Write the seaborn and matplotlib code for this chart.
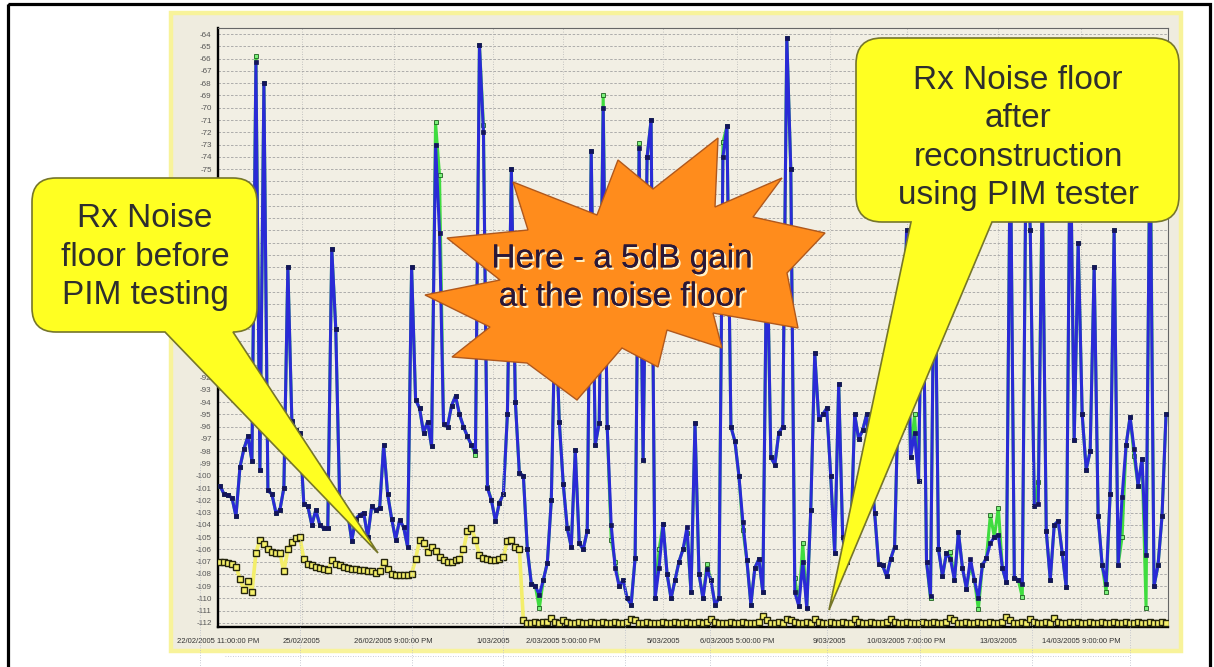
"""
Rx noise floor trend before / after PIM-guided reconstruction (site screenshot remake).
"""

import numpy as np
import matplotlib
matplotlib.use("Agg")
import matplotlib.pyplot as plt
import matplotlib.patheffects as pe
from matplotlib.patches import Rectangle, Polygon, PathPatch
from matplotlib.path import Path
import seaborn as sns


# ────────────────────────────────────────────────────────────────────
#  Data (one sample every ~4 px)
# ────────────────────────────────────────────────────────────────────

tick_pos = [-0.5, 20.5, 43.5, 68.5, 86, 111, 129.5, 152.75, 172, 195, 215.75]
tick_labels = ["22/02/2005 11:00:00 PM", "25/02/2005", "26/02/2005 9:00:00 PM",
               "1/03/2005", "2/03/2005 5:00:00 PM", "5/03/2005",
               "6/03/2005 5:00:00 PM", "9/03/2005", "10/03/2005 7:00:00 PM",
               "13/03/2005", "14/03/2005 9:00:00 PM"]
y_ticks = list(range(-112, -63))
# tick labels that sit behind the left callout in the screenshot
y_hidden = list(range(-89, -76))

# blue: busy-hour noise floor (dBm)
blue_dbm = [
    -100.8, -101.5, -101.6, -101.8, -103.3, -99.3, -97.8, -96.8, -98.8, -66.3,
    -99.5, -68.0, -101.2, -101.5, -103.0, -102.8, -101.0, -83.0, -95.5, -96.3,
    -96.5, -102.3, -102.5, -104.0, -102.8, -104.0, -104.3, -104.3, -81.5, -88.0,
    -102.3, -102.8, -103.0, -105.3, -103.5, -103.2, -103.0, -105.0, -102.5, -102.8,
    -102.6, -97.5, -101.5, -103.5, -105.2, -103.6, -104.2, -105.8, -83.0, -93.8,
    -94.5, -96.5, -95.6, -97.6, -73.0, -80.2, -95.8, -96.0, -94.3, -93.5,
    -95.0, -96.0, -96.8, -97.5, -98.0, -64.9, -72.0, -101.0, -102.0, -103.7,
    -102.2, -101.5, -95.0, -75.0, -94.0, -99.8, -100.0, -106.0, -108.8, -109.0,
    -109.7, -108.5, -107.1, -102.0, -86.0, -95.6, -100.7, -104.3, -105.8, -97.9,
    -105.5, -106.0, -104.5, -73.5, -97.5, -95.7, -70.0, -96.0, -104.0, -107.5,
    -109.0, -108.5, -110.0, -110.5, -106.7, -73.3, -98.7, -74.0, -71.0, -110.0,
    -107.5, -103.9, -108.0, -110.0, -108.5, -107.0, -106.0, -104.2, -109.5, -95.7,
    -108.0, -110.0, -107.6, -108.5, -110.5, -110.0, -74.0, -71.5, -96.0, -97.2,
    -100.0, -103.8, -106.9, -110.5, -107.5, -106.8, -109.5, -80.0, -98.5, -99.1,
    -96.5, -96.0, -64.3, -75.0, -109.5, -110.6, -107.0, -110.8, -102.8, -90.0,
    -95.4, -95.0, -94.5, -100.0, -106.3, -92.5, -105.0, -107.0, -105.8, -95.0,
    -97.0, -96.3, -95.0, -99.0, -103.0, -107.2, -107.3, -108.2, -106.8, -105.8,
    -92.5, -96.0, -80.0, -98.5, -96.5, -100.4, -79.0, -107.0, -109.8, -78.0,
    -106.0, -108.2, -106.3, -106.8, -108.5, -104.6, -107.5, -109.2, -106.8, -108.5,
    -110.0, -107.3, -106.7, -105.5, -105.0, -104.8, -107.5, -108.7, -72.0, -108.3,
    -108.5, -108.8, -71.0, -80.0, -102.5, -102.3, -76.0, -104.5, -108.5, -104.0,
    -103.7, -106.3, -109.1, -71.0, -97.1, -81.0, -95.0, -99.5, -98.0, -83.0,
    -103.3, -107.3, -108.8, -101.5, -80.0, -107.3, -101.7, -97.5, -95.2, -97.8,
    -100.8, -98.6, -106.5, -72.0, -109.0, -107.3, -103.3, -95.0,
]

# green: second carrier, only where it departs from the blue trace
green_idx = [9, 54, 55, 64, 66, 67, 80, 96, 98, 99,
             105, 110, 117, 122, 126, 131, 144, 146, 174, 178,
             183, 188, 190, 193, 195, 201, 205, 222, 226, 229,
             232, 233]
green_val = [-65.8, -71.2, -75.5, -98.3, -71.4, -100.9, -110.8, -69.0, -105.2, -107.0,
             -72.9, -106.0, -104.7, -107.2, -72.8, -104.4, -108.3, -105.5, -95.0, -110.0,
             -106.2, -107.3, -110.9, -103.2, -102.6, -109.9, -100.5, -109.5, -105.0, -98.4,
             -110.8, -69.5]

# yellow: quiet-hour noise floor (dBm)
yellow_dbm = [
    -107.0, -107.0, -107.1, -107.2, -107.4, -108.4, -109.3, -108.6, -109.5, -106.3,
    -105.2, -105.6, -106.0, -106.2, -106.3, -106.3, -107.8, -106.0, -105.4, -105.1,
    -105.0, -106.8, -107.2, -107.3, -107.4, -107.5, -107.6, -107.7, -106.9, -107.2,
    -107.3, -107.4, -107.5, -107.6, -107.6, -107.7, -107.7, -107.8, -107.8, -107.9,
    -107.8, -107.0, -107.6, -108.0, -108.1, -108.1, -108.1, -108.1, -108.0, -106.8,
    -105.2, -105.5, -106.2, -105.8, -106.1, -106.6, -106.9, -107.0, -107.0, -106.9,
    -106.8, -106.0, -104.5, -104.3, -105.2, -106.5, -106.7, -106.8, -106.9, -106.9,
    -106.8, -106.6, -105.3, -105.2, -105.8, -106.0, -111.8, -112.0, -112.0, -111.9,
    -112.0, -111.9, -111.9, -111.6, -111.9, -112.0, -111.8, -111.9, -112.0, -112.0,
    -111.9, -112.0, -112.0, -111.9, -112.0, -112.0, -111.9, -112.0, -112.0, -111.9,
    -112.0, -112.0, -111.9, -111.7, -111.8, -112.0, -112.0, -111.9, -112.0, -112.0,
    -112.0, -111.9, -112.0, -112.0, -111.9, -112.0, -112.0, -111.9, -112.0, -112.0,
    -111.9, -112.0, -111.9, -111.7, -111.9, -112.0, -112.0, -112.0, -111.9, -112.0,
    -112.0, -111.9, -112.0, -112.0, -112.0, -111.9, -111.4, -111.8, -112.0, -112.0,
    -111.9, -112.0, -111.7, -111.8, -111.9, -112.0, -112.0, -111.9, -112.0, -111.7,
    -111.9, -112.0, -112.0, -111.9, -112.0, -112.0, -111.9, -112.0, -112.0, -111.7,
    -111.9, -112.0, -112.0, -111.9, -112.0, -112.0, -112.0, -111.9, -111.7, -111.9,
    -112.0, -112.0, -111.9, -112.0, -112.0, -112.0, -111.9, -112.0, -112.0, -111.9,
    -112.0, -112.0, -111.9, -111.6, -111.8, -112.0, -112.0, -111.9, -112.0, -112.0,
    -111.9, -112.0, -112.0, -111.9, -112.0, -112.0, -111.9, -111.5, -111.8, -112.0,
    -112.0, -111.9, -112.0, -111.7, -111.9, -112.0, -112.0, -111.9, -112.0, -111.6,
    -111.9, -112.0, -112.0, -111.9, -112.0, -111.9, -112.0, -112.0, -111.9, -112.0,
    -112.0, -111.9, -112.0, -112.0, -111.9, -112.0, -112.0, -111.9, -112.0, -112.0,
    -111.9, -112.0, -112.0, -111.9, -112.0, -112.0, -111.9, -112.0,
]

callout_left = "Rx Noise\nfloor before\nPIM testing"
callout_right = "Rx Noise floor\nafter\nreconstruction\nusing PIM tester"
callout_burst = "Here - a 5dB gain\nat the noise floor"


# ────────────────────────────────────────────────────────────────────
#  Helpers (pixel coordinates, y pointing down)
# ────────────────────────────────────────────────────────────────────

def callout_path(x0, y0, x1, y1, r, base, tip):
    """Rounded box with a wedge hanging off its bottom edge."""
    bx0, bx1 = base
    verts = [(x0 + r, y0), (x1 - r, y0), (x1, y0), (x1, y0 + r),
             (x1, y1 - r), (x1, y1), (x1 - r, y1),
             (bx1, y1), tip, (bx0, y1),
             (x0 + r, y1), (x0, y1), (x0, y1 - r),
             (x0, y0 + r), (x0, y0), (x0 + r, y0), (x0 + r, y0)]
    codes = [Path.MOVETO, Path.LINETO, Path.CURVE3, Path.CURVE3,
             Path.LINETO, Path.CURVE3, Path.CURVE3,
             Path.LINETO, Path.LINETO, Path.LINETO,
             Path.LINETO, Path.CURVE3, Path.CURVE3,
             Path.LINETO, Path.CURVE3, Path.CURVE3, Path.CLOSEPOLY]
    return Path(verts, codes)


# ────────────────────────────────────────────────────────────────────
#  Figure
# ────────────────────────────────────────────────────────────────────

sns.set_style("white")
plt.rcParams["font.family"] = ["Liberation Sans", "DejaVu Sans"]

W, H = 1214, 667
fig = plt.figure(figsize=(W / 100, H / 100), dpi=100)
fig.patch.set_facecolor("white")

# background: screenshot frame + chart panel
bg = fig.add_axes([0, 0, 1, 1], zorder=0)
bg.set_xlim(0, W)
bg.set_ylim(H, 0)
bg.axis("off")
bg.add_patch(Rectangle((7.5, 4), 1202.5, 700, fc="none", ec="black", lw=2.3, clip_on=False))
bg.add_patch(Rectangle((171, 13), 1010, 638, fc="#efecdf", ec="#f8f39a", lw=3.2))

# main chart
ax = fig.add_axes([218 / W, 1 - 627 / H, 950 / W, 599 / H], zorder=1)
ax.set_facecolor("#f2efe4")

x = np.arange(len(blue_dbm))
green_dbm = np.array(blue_dbm)
green_dbm[green_idx] = green_val

sns.lineplot(x=x, y=yellow_dbm, ax=ax, color="#f3ee6a", linewidth=2.6,
             marker="s", markersize=4.6, mfc="#f6f06a", mec="#24240c", mew=1.0,
             estimator=None, sort=False, zorder=3)
sns.lineplot(x=x, y=green_dbm, ax=ax, color="#3fdc3f", linewidth=2.2,
             marker="s", markersize=3.2, mfc="#7cf07c", mec="#1f5f1f", mew=0.6,
             estimator=None, sort=False, zorder=4)
sns.lineplot(x=x, y=blue_dbm, ax=ax, color="#2a2ad6", linewidth=2.2,
             marker="s", markersize=3.0, mfc="#14145a", mec="#14145a", mew=0.5,
             estimator=None, sort=False, zorder=5)

ax.set_xlim(-0.5, len(blue_dbm) - 0.5)
ax.set_ylim(-112.33, -63.5)
ax.set_xlabel("")
ax.set_ylabel("")

ax.set_yticks(y_ticks)
ax.set_yticklabels([str(v) for v in y_ticks])
for v, lab in zip(y_ticks, ax.get_yticklabels()):
    if v in y_hidden:
        lab.set_visible(False)
ax.set_xticks(tick_pos)
ax.set_xticklabels(tick_labels)
ax.tick_params(axis="y", length=3, width=0.6, color="#666666",
               labelsize=5.8, labelcolor="#555555", pad=1.5)
ax.tick_params(axis="x", length=0, labelsize=5.5, labelcolor="#333333", pad=8)

ax.set_axisbelow(True)
ax.grid(axis="y", color="#a2a2a2", ls=(0, (3, 2)), lw=0.6)
ax.grid(axis="x", color="#b4b4b4", ls=(0, (1, 2)), lw=0.6)

for side in ("left", "bottom"):
    ax.spines[side].set_linewidth(1.7)
    ax.spines[side].set_color("black")
for side in ("top", "right"):
    ax.spines[side].set_linewidth(0.8)
    ax.spines[side].set_color("#666666")

# overlay: callouts
ov = fig.add_axes([0, 0, 1, 1], zorder=5)
ov.set_xlim(0, W)
ov.set_ylim(H, 0)
ov.axis("off")

# faint slide grid showing through below the chart
for gx in (200, 300, 412, 503, 625, 710, 827, 920, 1032, 1130):
    ov.plot([gx, gx], [462, H], color="#b8bcc8", lw=0.6, ls=(0, (1, 2)), zorder=1)
ov.plot([225, 1130], [656, 656], color="#b8bcc8", lw=0.6, ls=(0, (1, 2)), zorder=1)

yellow_face, yellow_edge = "#ffff22", "#76762a"
ov.add_patch(PathPatch(callout_path(32, 178, 257, 332, 24, (165, 233), (378, 553)),
                       fc=yellow_face, ec=yellow_edge, lw=1.2, zorder=3))
ov.add_patch(PathPatch(callout_path(856, 38, 1179, 222, 26, (911, 992), (829, 610)),
                       fc=yellow_face, ec=yellow_edge, lw=1.2, zorder=3))

burst = [(513, 182), (597, 215), (618, 160), (653, 189), (718, 138), (715, 207),
         (782, 178), (753, 217), (825, 233), (787, 273), (798, 328), (713, 313),
         (722, 348), (667, 330), (658, 367), (622, 348), (577, 400), (527, 363),
         (452, 357), (490, 327), (425, 295), (500, 280), (447, 238), (528, 230)]
ov.add_patch(Polygon(burst, closed=True, fc="#ff8c1c", ec="#b0581c", lw=1.0, zorder=3))

txt_kw = dict(ha="center", va="center", fontsize=24, color="#2e2e2e",
              linespacing=1.3, zorder=4)
ov.text(145, 257, callout_left, **txt_kw)
ov.text(1018, 138, callout_right, **txt_kw)
ov.text(622, 278, callout_burst, ha="center", va="center", fontsize=24,
        color="#2a1838", linespacing=1.3, zorder=4,
        path_effects=[pe.withSimplePatchShadow(offset=(1.5, -1.5),
                                               shadow_rgbFace="#fff2c8", alpha=1.0),
                      pe.Normal()])

fig.savefig("out.png", dpi=100)
plt.close(fig)
